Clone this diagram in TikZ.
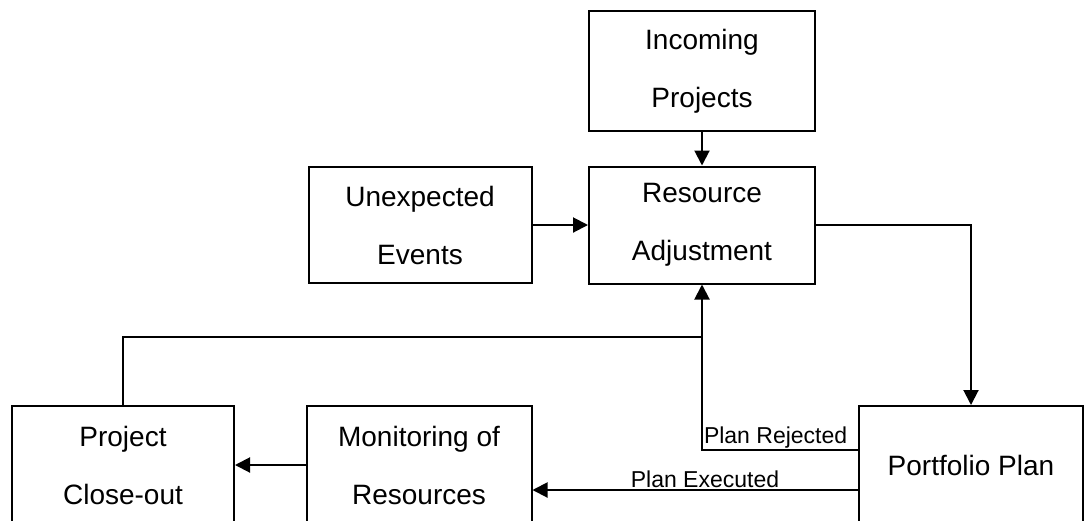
\documentclass[tikz,border=0pt]{standalone}
\usepackage{fontspec}
\setmainfont{Liberation Sans}
\usetikzlibrary{arrows.meta}

\begin{document}
\begin{tikzpicture}[x=1pt, y=-1pt, line width=2pt,
        box/.style={draw, rectangle, inner sep=0pt, align=center,
        font=\fontsize{28}{58}\selectfont},
        lbl/.style={inner sep=1pt, font=\fontsize{23}{26}\selectfont},
        >={Triangle[length=15pt, width=15pt]}]
        \useasboundingbox (0,0) rectangle (1084,520);

        \node[box, minimum width=226pt, minimum height=120pt] (inc) at (702,71) {Incoming\\Projects};
        \node[box, minimum width=226pt, minimum height=117pt] (res) at (702,225) {Resource\\Adjustment};
        \node[box, minimum width=223pt, minimum height=116pt] (unx) at (420,225) {Unexpected\\Events};
        \node[box, minimum width=224pt, minimum height=118pt] (pp) at (971,465) {Portfolio Plan};
        \node[box, minimum width=225pt, minimum height=118pt] (mon) at (419,465) {Monitoring of\\Resources};
        \node[box, minimum width=222pt, minimum height=118pt] (clo) at (123,465) {Project\\Close-out};

        \coordinate (rej) at (859,450);
        \coordinate (exe) at (859,490);
        \coordinate (join) at (702,337);

        \draw[->] (inc) -- (res);
        \draw[->] (unx) -- (res);
        \draw[->] (res.east) -| (pp.north);
        \draw[->] (rej) -| (res.south);
        \node[lbl, anchor=south west] at (rej -| res.south) {Plan Rejected};
        \draw[->] (exe) -- (exe -| mon.east);
        \node[lbl, anchor=south] at (705,490) {Plan Executed};
        \draw[->] (mon) -- (clo);
        \draw (clo.north) |- (join);
    \end{tikzpicture}
\end{document}
